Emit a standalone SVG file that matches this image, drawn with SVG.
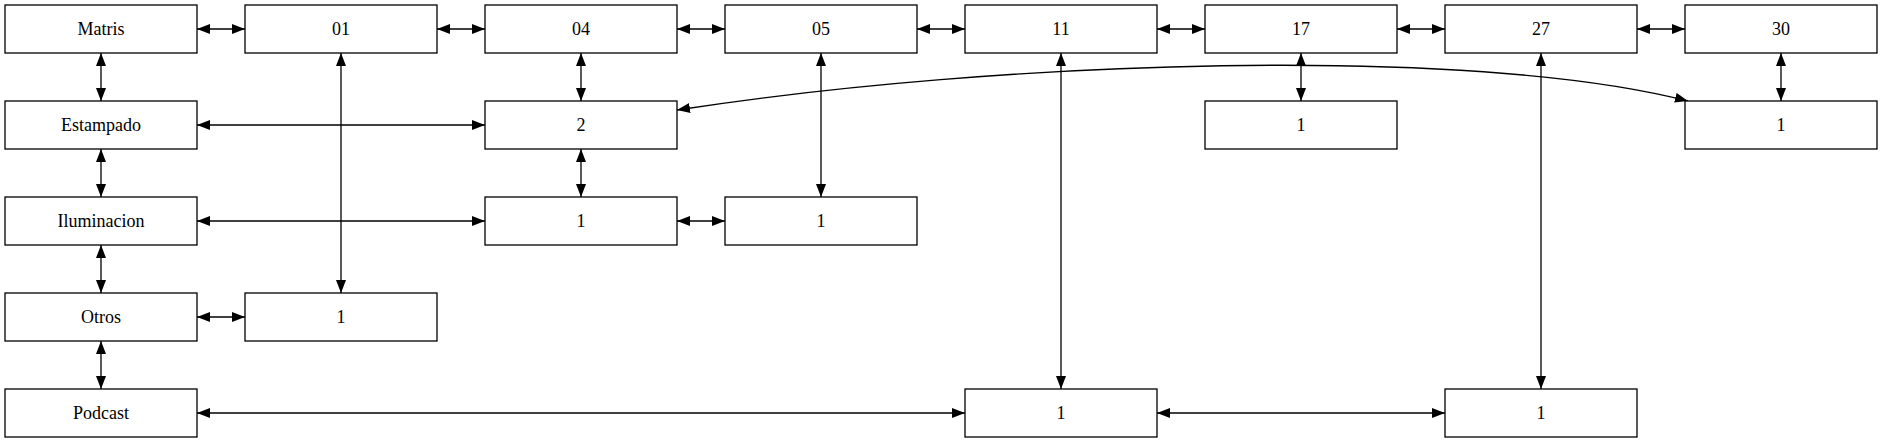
<svg xmlns="http://www.w3.org/2000/svg" width="1883" height="443" viewBox="0 0 1883 443">
<style>
.n rect{fill:#fff;stroke:#000;stroke-width:1.3}
.n text{font-family:"Liberation Serif","Times New Roman",serif;font-size:18px;text-anchor:middle;fill:#000}
.e path{fill:none;stroke:#000;stroke-width:1.3;marker-start:url(#a);marker-end:url(#a)}
</style>
<defs>
<marker id="a" viewBox="0 0 13 10" refX="13" refY="5" markerWidth="13" markerHeight="10" markerUnits="userSpaceOnUse" orient="auto-start-reverse">
<path d="M0,0 L13,5 L0,10 z" fill="#000"/>
</marker>
</defs>
<rect width="1883" height="443" fill="#fff"/>
<g id="edges" class="e">
<path d="M197,29 H245"/>
<path d="M437,29 H485"/>
<path d="M677,29 H725"/>
<path d="M917,29 H965"/>
<path d="M1157,29 H1205"/>
<path d="M1397,29 H1445"/>
<path d="M1637,29 H1685"/>
<path d="M101,53 V101"/>
<path d="M101,149 V197"/>
<path d="M101,245 V293"/>
<path d="M101,341 V389"/>
<path d="M341,53 V293"/>
<path d="M581,53 V101"/>
<path d="M581,149 V197"/>
<path d="M821,53 V197"/>
<path d="M1061,53 V389"/>
<path d="M1301,53 V101"/>
<path d="M1541,53 V389"/>
<path d="M1781,53 V101"/>
<path d="M197,125 H485"/>
<path d="M197,221 H485"/>
<path d="M677,221 H725"/>
<path d="M197,317 H245"/>
<path d="M197,413 H965"/>
<path d="M1157,413 H1445"/>
<path d="M677,110 C1000,60 1470,45 1688,101"/>
</g>
<g id="n_matris" class="n"><rect x="5" y="5" width="192" height="48"/><text x="101" y="35">Matris</text></g>
<g id="n_01" class="n"><rect x="245" y="5" width="192" height="48"/><text x="341" y="35">01</text></g>
<g id="n_04" class="n"><rect x="485" y="5" width="192" height="48"/><text x="581" y="35">04</text></g>
<g id="n_05" class="n"><rect x="725" y="5" width="192" height="48"/><text x="821" y="35">05</text></g>
<g id="n_11" class="n"><rect x="965" y="5" width="192" height="48"/><text x="1061" y="35">11</text></g>
<g id="n_17" class="n"><rect x="1205" y="5" width="192" height="48"/><text x="1301" y="35">17</text></g>
<g id="n_27" class="n"><rect x="1445" y="5" width="192" height="48"/><text x="1541" y="35">27</text></g>
<g id="n_30" class="n"><rect x="1685" y="5" width="192" height="48"/><text x="1781" y="35">30</text></g>
<g id="n_estampado" class="n"><rect x="5" y="101" width="192" height="48"/><text x="101" y="131">Estampado</text></g>
<g id="n_est_04" class="n"><rect x="485" y="101" width="192" height="48"/><text x="581" y="131">2</text></g>
<g id="n_est_17" class="n"><rect x="1205" y="101" width="192" height="48"/><text x="1301" y="131">1</text></g>
<g id="n_est_30" class="n"><rect x="1685" y="101" width="192" height="48"/><text x="1781" y="131">1</text></g>
<g id="n_iluminacion" class="n"><rect x="5" y="197" width="192" height="48"/><text x="101" y="227">Iluminacion</text></g>
<g id="n_ilu_04" class="n"><rect x="485" y="197" width="192" height="48"/><text x="581" y="227">1</text></g>
<g id="n_ilu_05" class="n"><rect x="725" y="197" width="192" height="48"/><text x="821" y="227">1</text></g>
<g id="n_otros" class="n"><rect x="5" y="293" width="192" height="48"/><text x="101" y="323">Otros</text></g>
<g id="n_otros_01" class="n"><rect x="245" y="293" width="192" height="48"/><text x="341" y="323">1</text></g>
<g id="n_podcast" class="n"><rect x="5" y="389" width="192" height="48"/><text x="101" y="419">Podcast</text></g>
<g id="n_pod_11" class="n"><rect x="965" y="389" width="192" height="48"/><text x="1061" y="419">1</text></g>
<g id="n_pod_27" class="n"><rect x="1445" y="389" width="192" height="48"/><text x="1541" y="419">1</text></g>
</svg>
